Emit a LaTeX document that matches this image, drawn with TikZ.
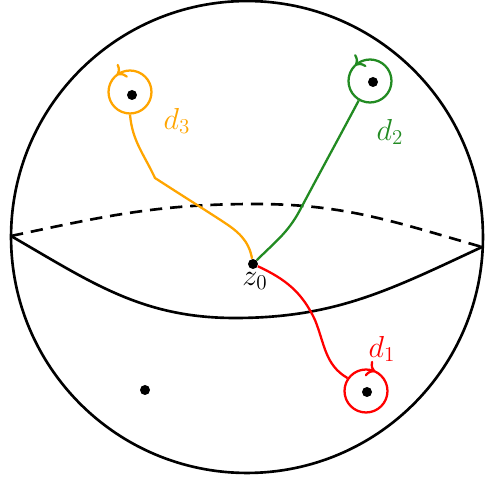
\documentclass[tikz,border=0pt]{standalone}
\usepackage{amsmath}
\usepackage{tikz}
\usetikzlibrary{
  arrows.meta,
  decorations.markings
}
\definecolor{PathOrange}{RGB}{255,165,0}
\definecolor{PathGreen}{RGB}{34,139,34}
\definecolor{PathRed}{RGB}{255,0,0}
\tikzset{
  sphere/.style={draw,circle,line width=1.5pt,minimum size=9.44cm,inner sep=0pt},
  equator/.style={line width=1.5pt},
  backside/.style={line width=1.5pt,dash pattern=on 7pt off 4.5pt},
  puncture/.style={fill,circle,minimum size=2mm,inner sep=0pt},
  loopnode/.style={draw,circle,line width=1.3pt,minimum size=8.6mm,inner sep=0pt},
  cycleccw/.style={postaction={decorate,decoration={markings,mark=at position #1 with {\arrow{To[length=1.6mm,width=3.4mm]}}}}},
  cyclecw/.style={postaction={decorate,decoration={markings,mark=at position #1 with {\arrowreversed{To[length=1.6mm,width=3.4mm]}}}}},
  pathline/.style={line width=1.3pt},
  lab/.style={font=\fontsize{18}{21}\selectfont}
}
\begin{document}
\begin{tikzpicture}[x=0.02cm,y=0.02cm]
\useasboundingbox (0,0) rectangle (487,483);
\node[sphere] (sph) at (247,246) {};

\coordinate (el) at (11,247);
\coordinate (er) at (482,236);
\coordinate (top) at (255,279);
\coordinate (bot) at (235,165);
\draw[backside] (el) to[out=12,in=180] (top) to[out=0,in=164] (er);
\draw[equator] (el) to[out=-30,in=180] (bot) to[out=0,in=-155] (er);

\node[puncture] (z0) at (253,219) {};
\node[lab] at (255,202) {$z_0$};

\node[loopnode,draw=PathOrange,cycleccw=0.355] (l3) at (130,391) {};
\node[loopnode,draw=PathGreen,cycleccw=0.37] (l2) at (370,402) {};
\node[loopnode,draw=PathRed,cyclecw=0.18] (l1) at (366,92) {};
\node[puncture] (p3) at (132,388) {};
\node[puncture] (p2) at (373,401) {};
\node[puncture] (p1) at (367,91) {};
\node[puncture] (p0) at (145,93) {};

\coordinate (o1) at (222,262);
\coordinate (o2) at (155,305);
\coordinate (g1) at (300,273);
\coordinate (r1) at (315,163);
\draw[pathline,PathOrange] (z0) to[out=100,in=-33] (o1) to[out=147,in=-33] (o2) to[out=115,in=-85] (l3.south);
\draw[pathline,PathGreen] (z0) to[out=45,in=-118] (g1) to[out=62,in=-118] (l2.240);
\draw[pathline,PathRed] (z0) to[out=-25,in=115] (r1) to[out=-68,in=150] (l1.145);

\node[lab,text=PathOrange] at (177,362) {$d_3$};
\node[lab,text=PathGreen] at (390,351) {$d_2$};
\node[lab,text=PathRed] at (382,134) {$d_1$};
\end{tikzpicture}
\end{document}
